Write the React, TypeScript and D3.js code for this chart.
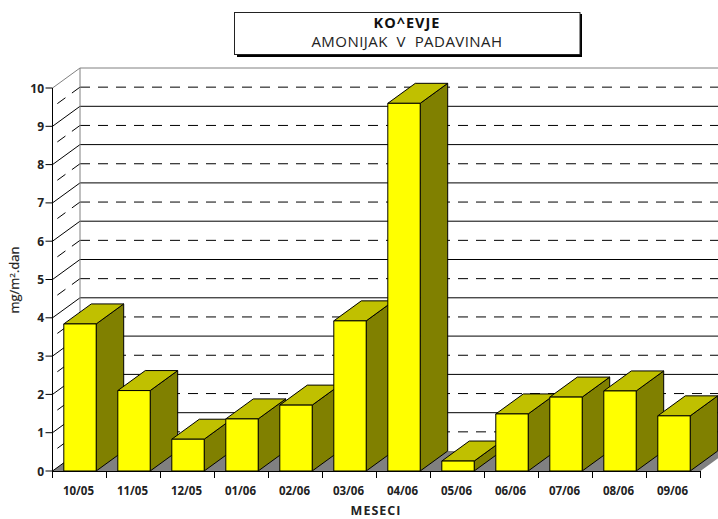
import React from "react";
import * as d3 from "d3";

const categories = ["10/05","11/05","12/05","01/06","02/06","03/06","04/06","05/06","06/06","07/06","08/06","09/06"];
const values = [3.84,2.1,0.83,1.36,1.72,3.92,9.6,0.26,1.49,1.93,2.09,1.44];
const yTicks = [0,1,2,3,4,5,6,7,8,9,10];
const halfTicks = [0.5,1.5,2.5,3.5,4.5,5.5,6.5,7.5,8.5,9.5];
const titleLines = ["KO^EVJE","AMONIJAK  V  PADAVINAH"];
const yLabel = "mg/m";
const xLabel = "MESECI";

const W = 718, H = 519;
const DX = 27.5, DY = -20;
const x = d3.scaleBand<string>().domain(categories).range([53,701]).paddingInner(0.4).paddingOuter(0.2);
const y = d3.scaleLinear().domain([0,10]).range([471,88]);
const font = "'Open Sans', Arial, sans-serif";
const step = x.step();
const pts = (a:number[][]) => a.map(p=>p.join(",")).join(" ");

export default function App(){
  const x0 = 52.5, x1 = 700.5;
  return (
    <svg width={W} height={H} style={{position:"absolute",left:0,top:0,background:"#fff"}} fontFamily={font}>
      <polygon points={pts([[x0,471],[x0+DX,471+DY],[x1+DX,471+DY],[x1,471]])} fill="#808080"/>
      {yTicks.map(t=>(
        <g key={t}>
          <line x1={x0} y1={y(t)} x2={x0+DX} y2={y(t)+DY} stroke={t===10?"#808080":"#000"} strokeWidth={1}/>
          {t>0 && <line x1={x0+DX} y1={y(t)+DY} x2={W} y2={y(t)+DY} stroke={t===10?"#808080":"#000"} strokeWidth={1}/>}
        </g>
      ))}
      {halfTicks.map(t=>(
        <g key={t} stroke="#000" strokeWidth={1} strokeDasharray="10 8">
          <line x1={x0+DX} y1={y(t)+DY} x2={W} y2={y(t)+DY}/>
          <line x1={x0+DX} y1={y(t)+DY} x2={x0} y2={y(t)}/>
        </g>
      ))}
      <line x1={x0+DX} y1={y(10)+DY} x2={x0+DX} y2={471+DY} stroke="#808080" strokeWidth={1}/>
      <line x1={x0} y1={y(10)} x2={x0} y2={471} stroke="#000"/>
      <line x1={x0} y1={471.5} x2={x1} y2={471.5} stroke="#000"/>
      {yTicks.map(t=>(
        <g key={t}>
          <line x1={x0-7} y1={y(t)} x2={x0} y2={y(t)} stroke="#000"/>
          <text x={44} y={y(t)+4.5} textAnchor="end" fontSize={12} fontWeight={700} fill="#222">{t}</text>
        </g>
      ))}
      {d3.range(13).map(i=>(
        <line key={i} x1={x0+i*step} y1={471} x2={x0+i*step} y2={478} stroke="#000"/>
      ))}
      {categories.map((c,i)=>{
        const bx = x(c)!, bw = x.bandwidth(), by = y(values[i]);
        return (
          <g key={c} stroke="#000" strokeWidth={1} strokeLinejoin="round">
            <polygon points={pts([[bx+bw,by],[bx+bw+DX,by+DY],[bx+bw+DX,471+DY],[bx+bw,471]])} fill="#808000"/>
            <polygon points={pts([[bx,by],[bx+DX,by+DY],[bx+bw+DX,by+DY],[bx+bw,by]])} fill="#c0c000"/>
            <rect x={bx} y={by} width={bw} height={471-by} fill="#ffff00"/>
          </g>
        );
      })}
      {categories.map(c=>(
        <text key={c} x={x(c)!+x.bandwidth()/2-1.5} y={495} textAnchor="middle" fontSize={11.5} fontWeight={700} fill="#222">{c}</text>
      ))}
      <text x={376} y={515} textAnchor="middle" fontSize={12.5} fontWeight={700} letterSpacing={1} fill="#222">{xLabel}</text>
      <text transform="translate(19,280) rotate(-90)" textAnchor="middle" fontSize={13} fontWeight={400} fill="#222" stroke="#222" strokeWidth={0.2}>
        {yLabel}<tspan dy={-4} fontSize={8}>2</tspan><tspan dy={4}>.dan</tspan>
      </text>
      <rect x={237} y={14} width={345} height={43} fill="#000"/>
      <rect x={234.5} y={12.5} width={345.5} height={42} fill="#fff" stroke="#222"/>
      <text x={407} y={28} textAnchor="middle" fontSize={14.5} fontWeight={700} letterSpacing={1} fill="#111">{titleLines[0]}</text>
      <text x={407} y={46.5} textAnchor="middle" fontSize={15} letterSpacing={0.45} fill="#222" xmlSpace="preserve">{titleLines[1]}</text>
    </svg>
  );
}
